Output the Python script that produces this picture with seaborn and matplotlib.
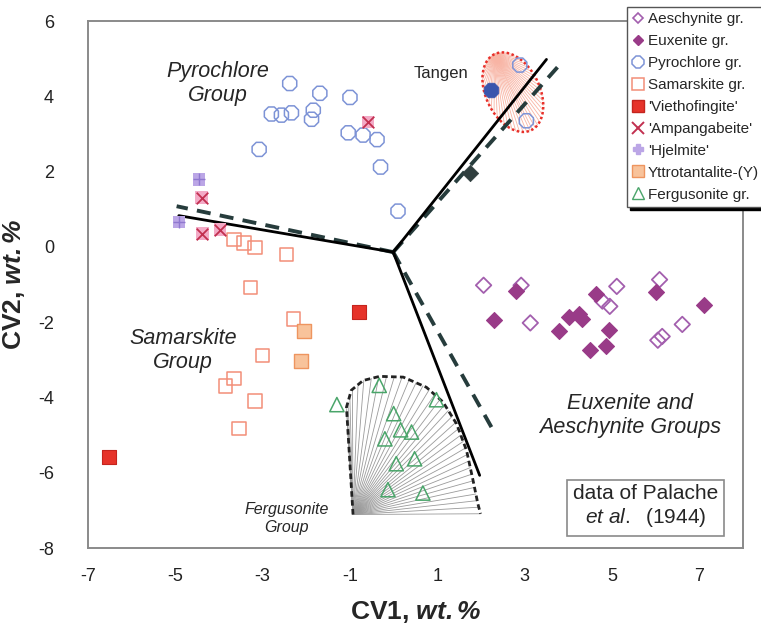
import numpy as np
import matplotlib
matplotlib.use("Agg")
import matplotlib.pyplot as plt
from matplotlib.lines import Line2D
import seaborn as sns

# CV1 / CV2 scores
aesch_x = [2.06, 2.92, 3.13, 5.11, 4.78, 4.95, 6.09, 6.61, 6.05, 6.15]
aesch_y = [-1.02, -1.02, -2.02, -1.05, -1.44, -1.58, -0.87, -2.06, -2.48, -2.38]
euxen_x = [2.81, 2.29, 4.64, 4.01, 4.24, 4.32, 3.78, 4.93, 4.50, 4.87, 6.01, 7.10]
euxen_y = [-1.17, -1.93, -1.26, -1.85, -1.78, -1.91, -2.24, -2.20, -2.75, -2.64, -1.20, -1.55]
pyro_x = [-2.38, -1.69, -1.00, -2.80, -2.57, -2.34, -1.84, -1.88, -1.04, -0.70,
          -0.38, -3.08, -0.30, 0.10, 2.89, 3.04]
pyro_y = [4.34, 4.08, 3.97, 3.53, 3.50, 3.56, 3.63, 3.39, 3.03, 2.97,
          2.85, 2.59, 2.12, 0.95, 4.83, 3.35]
samar_x = [-3.65, -3.43, -3.18, -2.45, -3.28, -2.29, -3.00, -3.65, -3.85, -3.18, -3.54]
samar_y = [0.20, 0.10, -0.02, -0.20, -1.08, -1.92, -2.88, -3.50, -3.70, -4.10, -4.82]
vieth_x = [-0.80, -6.51]
vieth_y = [-1.74, -5.57]
ampan_x = [-0.59, -4.40, -4.38, -3.98]
ampan_y = [3.32, 1.31, 0.35, 0.46]
hjelm_x = [-4.46, -4.92]
hjelm_y = [1.79, 0.65]
yttro_x = [-2.05, -2.11]
yttro_y = [-2.24, -3.02]
fergu_x = [-1.30, -0.33, 0.98, 0.00, 0.16, 0.41, -0.20, 0.06, 0.48, -0.13, 0.67]
fergu_y = [-4.19, -3.68, -4.06, -4.43, -4.86, -4.92, -5.10, -5.76, -5.63, -6.45, -6.54]
tangen_x = [2.24]
tangen_y = [4.18]
other_x = [1.74]
other_y = [1.95]

# discriminant vectors: common origin, arm end points
origin = (-0.01, -0.14)
solid_end_x = [-4.92, 3.50, 1.97]
solid_end_y = [0.83, 4.98, -6.07]
dash_end_x = [-4.97, 3.88, 2.24]
dash_end_y = [1.08, 4.94, -4.79]

# Fergusonite field outline (apex first)
ferg_out_x = [-0.93, -1.08, -0.97, -0.70, -0.32, 0.22, 0.75, 1.13, 1.44, 1.67, 1.82, 1.93, 1.99]
ferg_out_y = [-7.11, -4.26, -3.81, -3.55, -3.44, -3.46, -3.73, -4.12, -4.70, -5.41, -6.21, -6.83, -7.09]

# Tangen ellipse: centre and two semi-axis vectors
tan_c = (2.73, 4.11)
tan_a = (0.42, -1.01)
tan_b = (0.556, 0.311)

sns.set_style("white")
plt.rcParams["font.family"] = ["Liberation Sans", "DejaVu Sans"]
plt.rcParams["axes.unicode_minus"] = False
plt.rcParams["mathtext.fontset"] = "custom"
plt.rcParams["mathtext.rm"] = "Liberation Sans"
plt.rcParams["mathtext.it"] = "Liberation Sans:italic"
plt.rcParams["mathtext.bf"] = "Liberation Sans:bold"
plt.rcParams["mathtext.bfit"] = "Liberation Sans:italic:bold"

fig = plt.figure(figsize=(7.61, 6.39), dpi=100)
ax = fig.add_axes([0.1156, 0.1424, 0.8607, 0.8247])

# Fergusonite fan
fx, fy = np.array(ferg_out_x), np.array(ferg_out_y)
seg = np.hypot(np.diff(fx), np.diff(fy))
cum = np.concatenate([[0], np.cumsum(seg)])
s = np.linspace(cum[1] * 0.3, cum[-1], 46)
rx, ry = np.interp(s, cum, fx), np.interp(s, cum, fy)
for px, py in zip(rx, ry):
    ax.plot([fx[0], px], [fy[0], py], color="#9a9a9a", lw=0.6, zorder=1)
ax.plot(fx, fy, color="#222222", lw=2.0, ls=(0, (2.0, 1.2)), zorder=2)

# Tangen ellipse fan
t = np.linspace(0, 2 * np.pi, 200)
ex = tan_c[0] + tan_a[0] * np.cos(t) + tan_b[0] * np.sin(t)
ey = tan_c[1] + tan_a[1] * np.cos(t) + tan_b[1] * np.sin(t)
apx, apy = tan_c[0] - tan_a[0], tan_c[1] - tan_a[1]
for tt in np.linspace(0.05, 2 * np.pi - 0.05, 50):
    ax.plot([apx, tan_c[0] + tan_a[0] * np.cos(tt) + tan_b[0] * np.sin(tt)],
            [apy, tan_c[1] + tan_a[1] * np.cos(tt) + tan_b[1] * np.sin(tt)],
            color="#f8b4a4", lw=0.6, zorder=1)
ax.plot(ex, ey, color="#e8302a", lw=1.8, ls=(0, (1, 1)), zorder=2)

# discriminant vectors
for x1, y1 in zip(dash_end_x, dash_end_y):
    ax.plot([origin[0], x1], [origin[1], y1], color="#263c3c", lw=2.8,
            dashes=(3.6, 2.4), zorder=3)
for x1, y1 in zip(solid_end_x, solid_end_y):
    ax.plot([origin[0], x1], [origin[1], y1], color="black", lw=2.0, zorder=3)

# point groups
sns.scatterplot(x=pyro_x, y=pyro_y, marker="8", s=120, color="#7d93d6",
                facecolor="none", edgecolor="#7d93d6", linewidth=1.1, ax=ax, zorder=5)
sns.scatterplot(x=tangen_x, y=tangen_y, marker="8", s=130, color="#3a56ad",
                edgecolor="#3a56ad", linewidth=0.5, ax=ax, zorder=5)
sns.scatterplot(x=other_x, y=other_y, marker="D", s=70, color="#2f3e3e",
                edgecolor="#2f3e3e", linewidth=0.5, ax=ax, zorder=5)
sns.scatterplot(x=aesch_x, y=aesch_y, marker="D", s=62, color="#a35fae",
                facecolor="none", edgecolor="#a35fae", linewidth=1.3, ax=ax, zorder=5)
sns.scatterplot(x=euxen_x, y=euxen_y, marker="D", s=66, color="#993b88",
                edgecolor="#993b88", linewidth=0.8, ax=ax, zorder=6)
sns.scatterplot(x=samar_x, y=samar_y, marker="s", s=95, color="#f28e78",
                facecolor="none", edgecolor="#f28e78", linewidth=1.1, ax=ax, zorder=5)
sns.scatterplot(x=vieth_x, y=vieth_y, marker="s", s=110, color="#e6332a",
                edgecolor="#c4241e", linewidth=0.8, ax=ax, zorder=5)
sns.scatterplot(x=yttro_x, y=yttro_y, marker="s", s=115, color="#f8c39b",
                edgecolor="#ee955f", linewidth=1.0, ax=ax, zorder=5)
sns.scatterplot(x=ampan_x, y=ampan_y, marker="s", s=80, color="#f3aac6",
                edgecolor="none", linewidth=0, ax=ax, zorder=5)
sns.scatterplot(x=ampan_x, y=ampan_y, marker="x", s=70, color="#c23050",
                linewidth=1.3, ax=ax, zorder=6)
sns.scatterplot(x=hjelm_x, y=hjelm_y, marker="s", s=75, color="#bba6e6",
                edgecolor="none", linewidth=0, ax=ax, zorder=5)
sns.scatterplot(x=hjelm_x, y=hjelm_y, marker="+", s=70, color="#8f78cf",
                linewidth=1.0, ax=ax, zorder=6)
sns.scatterplot(x=fergu_x, y=fergu_y, marker="^", s=105, color="#4aa56a",
                facecolor="none", edgecolor="#4aa56a", linewidth=1.1, ax=ax, zorder=5)

# annotations
ax.text(-4.03, 4.34, "Pyrochlore\nGroup", style="italic", fontsize=15.5,
        ha="center", va="center", multialignment="center")
ax.text(-4.83, -2.75, "Samarskite\nGroup", style="italic", fontsize=15.5,
        ha="center", va="center", multialignment="center")
ax.text(5.42, -4.47, "Euxenite and\nAeschynite Groups", style="italic", fontsize=15.5,
        ha="center", va="center", multialignment="center")
ax.text(-2.45, -7.22, "Fergusonite\nGroup", style="italic", fontsize=11.5,
        ha="center", va="center", multialignment="center", linespacing=1.3)
ax.text(1.09, 4.61, "Tangen", fontsize=12, ha="center", va="center")
ax.text(5.77, -6.90, "data of Palache\n$\\mathit{et\\ al.}$  (1944)", fontsize=15,
        ha="center", va="center", multialignment="center",
        bbox=dict(boxstyle="square,pad=0.3", fc="white", ec="#8a8a8a", lw=1.2))

ax.set_xlim(-7, 8)
ax.set_ylim(-8, 6)
ax.set_xticks(np.arange(-7, 8, 2))
ax.set_xticks(np.arange(-6, 9, 2), minor=True)
ax.set_yticks(np.arange(-8, 7, 2))
ax.set_yticks(np.arange(-7, 6, 2), minor=True)
ax.tick_params(which="both", direction="inout", length=9, width=1.1,
               color="#8a8a8a", labelsize=13, labelcolor="#222222")
ax.tick_params(axis="x", pad=10)
ax.tick_params(axis="y", pad=20)
for sp in ax.spines.values():
    sp.set_color("#8a8a8a")
    sp.set_linewidth(1.4)

ax.set_xlabel("CV1, $\\mathbfit{wt.\\%}$", fontsize=19, fontweight="bold", labelpad=10)
ax.set_ylabel("CV2, $\\mathbfit{wt.\\%}$", fontsize=19, fontweight="bold", labelpad=8)

handles = [
    Line2D([], [], ls="none", marker="D", ms=5, mfc="none", mec="#a35fae", mew=1.2),
    Line2D([], [], ls="none", marker="D", ms=5, mfc="#993b88", mec="#993b88"),
    Line2D([], [], ls="none", marker="8", ms=9, mfc="none", mec="#7d93d6", mew=1.1),
    Line2D([], [], ls="none", marker="s", ms=8, mfc="none", mec="#f28e78", mew=1.1),
    Line2D([], [], ls="none", marker="s", ms=9, mfc="#e6332a", mec="#c4241e"),
    Line2D([], [], ls="none", marker="x", ms=9, mec="#c23050", mew=1.4),
    Line2D([], [], ls="none", marker="P", ms=7, mfc="#bba6e6", mec="#bba6e6"),
    Line2D([], [], ls="none", marker="s", ms=9, mfc="#f8c39b", mec="#ee955f"),
    Line2D([], [], ls="none", marker="^", ms=8, mfc="none", mec="#4aa56a", mew=1.0),
]
labels = ["Aeschynite gr.", "Euxenite gr.", "Pyrochlore gr.", "Samarskite gr.",
          "'Viethofingite'", "'Ampangabeite'", "'Hjelmite'", "Yttrotantalite-(Y)",
          "Fergusonite gr."]
leg = ax.legend(handles, labels, loc="upper left", bbox_to_anchor=(0.823, 1.027),
                borderaxespad=0, fontsize=11, handlelength=0.8, handletextpad=0.2,
                labelspacing=0.52, borderpad=0.35, fancybox=False, framealpha=1,
                edgecolor="#555555", shadow={"color": "black", "alpha": 1})
leg.get_frame().set_linewidth(1.0)
leg.set_zorder(10)

fig.savefig("out.png", dpi=100)
